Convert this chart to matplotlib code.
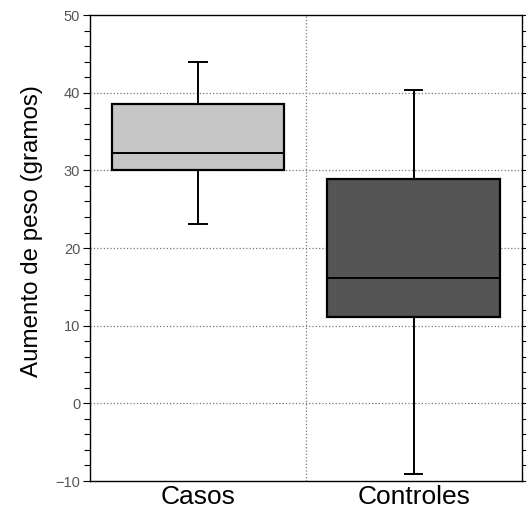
import matplotlib.pyplot as plt

# Datos
grupos = ['Casos', 'Controles']
minimos = [23.1, -9.1]
q1 = [30.0, 11.1]
medianas = [32.3, 16.2]
q3 = [38.6, 28.9]
maximos = [44.0, 40.4]
colores = ['#c6c6c6', '#555555']

plt.rcParams['font.family'] = ['Liberation Sans', 'DejaVu Sans']

fig = plt.figure(figsize=(5.26, 5.12), dpi=100)
ax = fig.add_axes([0.171, 0.0605, 0.821, 0.91])

stats = []
for i, g in enumerate(grupos):
    stats.append({'label': g, 'whislo': minimos[i], 'q1': q1[i], 'med': medianas[i],
                  'q3': q3[i], 'whishi': maximos[i], 'fliers': []})

bp = ax.bxp(stats, positions=[0.5, 1.5], widths=0.8, capwidths=0.08,
            patch_artist=True, showfliers=False,
            boxprops=dict(linewidth=1.6, edgecolor='black'),
            medianprops=dict(color='black', linewidth=1.4),
            whiskerprops=dict(color='black', linewidth=1.4),
            capprops=dict(color='black', linewidth=1.4))
for caja, c in zip(bp['boxes'], colores):
    caja.set_facecolor(c)

ax.set_xlim(0, 2)
ax.set_ylim(-10, 50)
ax.set_yticks([-10, 0, 10, 20, 30, 40, 50])
ax.set_yticks(range(-10, 51, 2), minor=True)

# rejilla punteada
for y in [0, 10, 20, 30, 40]:
    ax.axhline(y, color='#777777', linestyle=':', linewidth=0.9, zorder=0)
ax.axvline(1, color='#777777', linestyle=':', linewidth=0.9, zorder=0)

ax.set_xticks([0.5, 1.5])
ax.set_xticklabels(grupos, fontsize=19)
ax.tick_params(axis='x', length=0, pad=3)
ax.tick_params(axis='y', which='both', right=True, direction='out',
               labelsize=10.5, labelcolor='#555555', length=5, width=0.8, pad=2)
ax.tick_params(axis='y', which='minor', length=4)

for s in ax.spines.values():
    s.set_linewidth(1.0)

ax.set_ylabel('Aumento de peso (gramos)', fontsize=17.4)
ax.yaxis.set_label_coords(-0.109, 0.536)

fig.savefig('out.png', dpi=100)
